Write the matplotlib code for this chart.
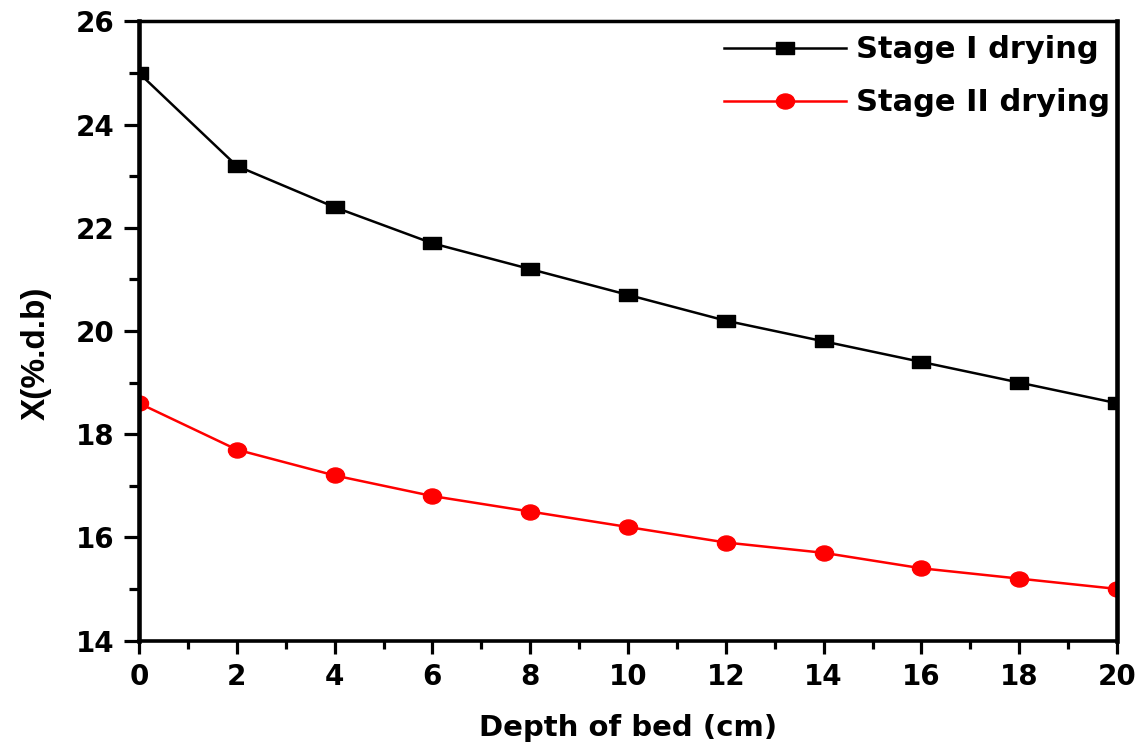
import numpy as np
import matplotlib.pyplot as plt
from matplotlib.ticker import MultipleLocator
from matplotlib.path import Path
from matplotlib.transforms import Affine2D

# moisture content vs bed depth for the two drying stages
depth = [0, 2, 4, 6, 8, 10, 12, 14, 16, 18, 20]
stage1 = [25.0, 23.2, 22.4, 21.7, 21.2, 20.7, 20.2, 19.8, 19.4, 19.0, 18.6]
stage2 = [18.6, 17.7, 17.2, 16.8, 16.5, 16.2, 15.9, 15.7, 15.4, 15.2, 15.0]

plt.rcParams['font.family'] = ['DejaVu Sans']
plt.rcParams['font.weight'] = 'bold'

# slightly wide markers (rectangle / ellipse)
sq = Path([(-0.7, -0.5), (0.7, -0.5), (0.7, 0.5), (-0.7, 0.5), (-0.7, -0.5)],
          [Path.MOVETO, Path.LINETO, Path.LINETO, Path.LINETO, Path.CLOSEPOLY])
ell = Path.unit_circle().transformed(Affine2D().scale(1.2, 1.0))

fig = plt.figure(figsize=(11.47, 7.46), dpi=100)
ax = fig.add_axes([0.1212, 0.1414, 0.8527, 0.8298])

ax.plot(depth, stage1, '-', marker=sq, color='black', lw=1.8, ms=12.5, label='Stage I drying')
ax.plot(depth, stage2, '-', marker=ell, color='red', mec='red', lw=1.8, ms=13, label='Stage II drying')

ax.set_xlim(0, 20)
ax.set_ylim(14, 26)
ax.xaxis.set_major_locator(MultipleLocator(2))
ax.xaxis.set_minor_locator(MultipleLocator(1))
ax.yaxis.set_major_locator(MultipleLocator(2))
ax.yaxis.set_minor_locator(MultipleLocator(1))

ax.spines['left'].set_linewidth(3.3)
ax.spines['right'].set_linewidth(3.3)
ax.spines['top'].set_linewidth(2.5)
ax.spines['bottom'].set_linewidth(2.6)

ax.tick_params(which='both', direction='out', width=2.3, top=False, right=False)
ax.tick_params(axis='x', which='major', length=9.5, labelsize=20, pad=7)
ax.tick_params(axis='x', which='minor', length=6)
ax.tick_params(axis='y', which='major', length=11, labelsize=20, pad=7)
ax.tick_params(axis='y', which='minor', length=7)
for lab in ax.get_xticklabels() + ax.get_yticklabels():
    lab.set_fontweight('bold')

ax.set_xlabel('Depth of bed (cm)', fontsize=21, fontweight='bold', labelpad=16)
ax.set_ylabel('X(%.d.b)', fontsize=24, fontweight='bold', family='Liberation Sans')
ax.yaxis.set_label_coords(-0.089, 0.464)

leg = ax.legend(loc='upper right', bbox_to_anchor=(1.012, 1.007), frameon=False,
                fontsize=22, handlelength=4.0, handletextpad=0.35,
                borderaxespad=0.2, labelspacing=0.78)
for t in leg.get_texts():
    t.set_fontweight('bold')

fig.savefig('out.png', dpi=100)
